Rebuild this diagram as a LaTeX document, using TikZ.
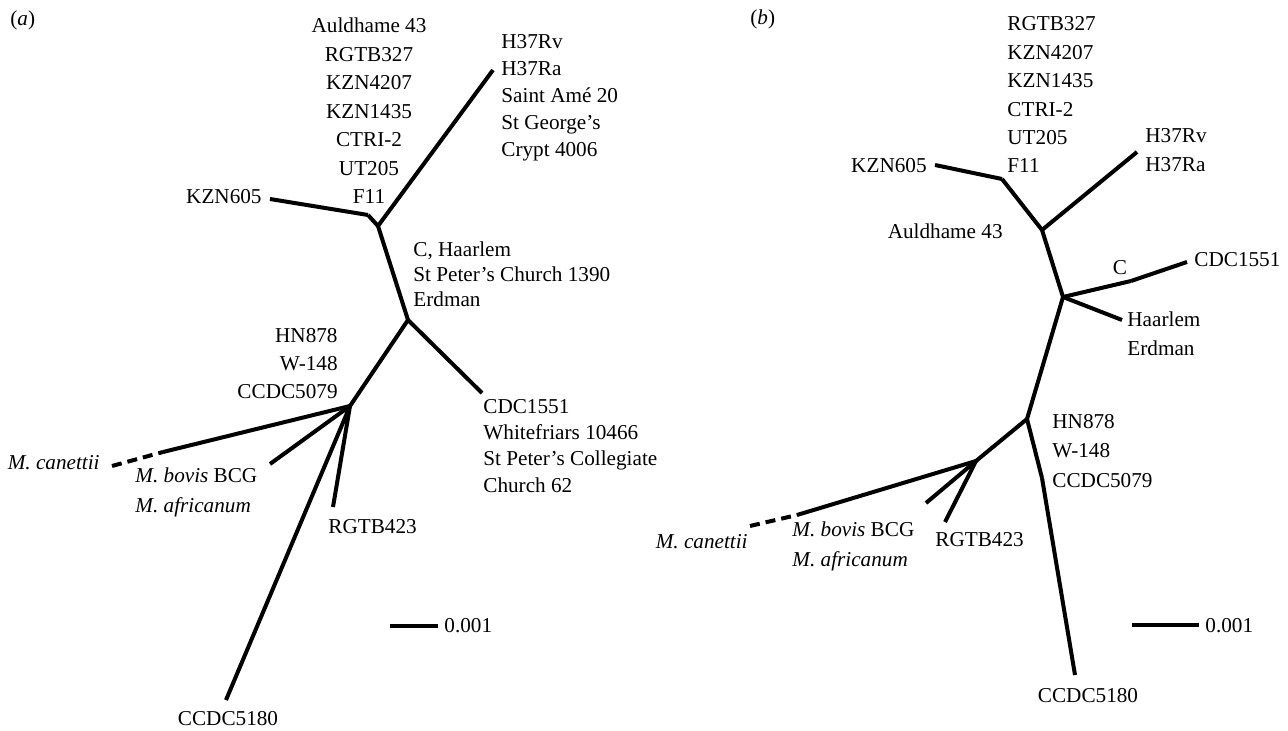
\documentclass[tikz,border=0pt]{standalone}
\usepackage{fontspec}
\setmainfont{Liberation Serif}
\usepackage{tikz}

\tikzset{
  branch/.style={line width=2pt},
  dashbranch/.style={line width=2pt, dash pattern=on 5pt off 3pt},
  lab/.style={inner sep=0pt, font=\fontsize{10.6}{#1}\selectfont},
  lab/.default=14.2,
}

\begin{document}
\begin{tikzpicture}[x=0.5pt,y=-0.5pt]
\useasboundingbox (0,0) rectangle (1288,731);

% Tree (a)
\node[lab, anchor=base west] (tagA) at (10,26) {(\textit{a})};

\coordinate (aR) at (378,226);
\coordinate (aF) at (368,215);
\coordinate (aKZN) at (270,199);
\coordinate (aH37) at (493,70);
\coordinate (aC) at (408,320);
\coordinate (aCDC) at (482,393);
\coordinate (aM) at (350,406);
\coordinate (aCan) at (163,452);
\coordinate (aCanEnd) at (112,466);
\coordinate (aBov) at (270,464);
\coordinate (aRG) at (333,507);
\coordinate (aCC) at (226,700);

\foreach \u/\v in {aKZN/aF, aF/aR, aR/aH37, aR/aC, aC/aCDC, aC/aM, aM/aCan, aM/aBov, aM/aRG, aM/aCC}
  \draw[branch] (\u) -- (\v);
\draw[dashbranch] (aCanEnd) -- (aCan);

% multi-line labels sit on the baseline of their last line
\node[lab=14.25, anchor=base, align=center] (aTop) at (369,204)
  {Auldhame 43\\RGTB327\\KZN4207\\KZN1435\\CTRI-2\\UT205\\F11};
\node[lab=13.6, anchor=base west, align=left] (aH37lab) at (501,157)
  {H37Rv\\H37Ra\\Saint Amé 20\\St George’s\\Crypt 4006};
\node[lab, anchor=base east] (aKZNlab) at (262,204) {KZN605};
\node[lab=12.5, anchor=base west, align=left] (aClab) at (413,307)
  {C, Haarlem\\St Peter’s Church 1390\\Erdman};
\node[lab, anchor=base east, align=right] (aHNlab) at (338,399)
  {HN878\\W-148\\CCDC5079};
\node[lab=13.1, anchor=base west, align=left] (aCDClab) at (483,492)
  {CDC1551\\Whitefriars 10466\\St Peter’s Collegiate\\Church 62};
\node[lab, anchor=base east] (aCanlab) at (100,469) {\textit{M. canettii}};
\node[lab=15, anchor=base west, align=left] (aBovlab) at (135,512)
  {\textit{M. bovis} BCG\\\textit{M. africanum}};
\node[lab, anchor=base west] (aRGlab) at (328,533) {RGTB423};
\node[lab, anchor=base] (aCClab) at (228,725) {CCDC5180};

% scale bar (a)
\coordinate (aS1) at (390,626);
\coordinate (aS2) at (438,626);
\draw[branch] (aS1) -- (aS2);
\node[lab, anchor=base west] (aSlab) at (444,632) {0.001};

% Tree (b)
\node[lab, anchor=base west] (tagB) at (750,25) {(\textit{b})};

\coordinate (bR) at (1042,230);
\coordinate (bF) at (1002,179);
\coordinate (bKZN) at (935,165);
\coordinate (bH37) at (1137,152);
\coordinate (bC) at (1063,297);
\coordinate (bCk) at (1131,281);
\coordinate (bCDC) at (1187,262);
\coordinate (bHaa) at (1122,320);
\coordinate (bN) at (1027,419);
\coordinate (bNk) at (1042,478);
\coordinate (bCC) at (1075,675);
\coordinate (bM) at (976,461);
\coordinate (bCan) at (797,515);
\coordinate (bCanEnd) at (750,526);
\coordinate (bBov) at (926,503);
\coordinate (bRG) at (945,522);

\foreach \u/\v in {bKZN/bF, bF/bR, bR/bH37, bR/bC, bC/bCk, bCk/bCDC, bC/bHaa, bC/bN, bN/bNk, bNk/bCC, bN/bM, bM/bCan, bM/bBov, bM/bRG}
  \draw[branch] (\u) -- (\v);
\draw[dashbranch] (bCanEnd) -- (bCan);

\node[lab, anchor=base west, align=left] (bTop) at (1007,173)
  {RGTB327\\KZN4207\\KZN1435\\CTRI-2\\UT205\\F11};
\node[lab, anchor=base east] (bKZNlab) at (927,173) {KZN605};
\node[lab, anchor=base east] (bAuldlab) at (1003,239) {Auldhame 43};
\node[lab=14.5, anchor=base west, align=left] (bH37lab) at (1145,172) {H37Rv\\H37Ra};
\node[lab, anchor=base] (bClab) at (1120,275) {C};
\node[lab, anchor=base west] (bCDClab) at (1194,267) {CDC1551};
\node[lab=14.5, anchor=base west, align=left] (bHaalab) at (1127,356) {Haarlem\\Erdman};
\node[lab=14.5, anchor=base west, align=left] (bHNlab) at (1052,487)
  {HN878\\W-148\\CCDC5079};
\node[lab, anchor=base east] (bCanlab) at (748,548) {\textit{M. canettii}};
\node[lab=15, anchor=base west, align=left] (bBovlab) at (792,566)
  {\textit{M. bovis} BCG\\\textit{M. africanum}};
\node[lab, anchor=base west] (bRGlab) at (935,546) {RGTB423};
\node[lab, anchor=base] (bCClab) at (1088,702) {CCDC5180};

% scale bar (b)
\coordinate (bS1) at (1132,625);
\coordinate (bS2) at (1199,625);
\draw[branch] (bS1) -- (bS2);
\node[lab, anchor=base west] (bSlab) at (1205,632) {0.001};
\end{tikzpicture}
\end{document}
